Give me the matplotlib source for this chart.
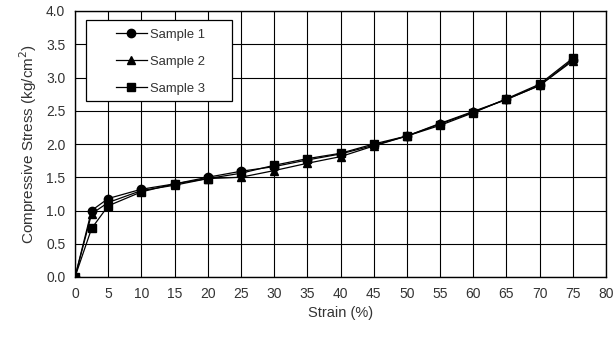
import matplotlib
matplotlib.use("Agg")
import matplotlib.pyplot as plt
from matplotlib.patches import Rectangle

strain = [0, 2.5, 5, 10, 15, 20, 25, 30, 35, 40, 45, 50, 55, 60, 65, 70, 75]
sample1 = [0.0, 1.00, 1.18, 1.32, 1.40, 1.50, 1.59, 1.66, 1.76, 1.85, 1.98, 2.12, 2.30, 2.48, 2.67, 2.88, 3.27]
sample2 = [0.0, 0.95, 1.12, 1.30, 1.38, 1.48, 1.50, 1.60, 1.71, 1.81, 1.97, 2.12, 2.31, 2.49, 2.67, 2.88, 3.25]
sample3 = [0.0, 0.73, 1.07, 1.28, 1.40, 1.48, 1.56, 1.68, 1.78, 1.86, 2.00, 2.12, 2.28, 2.47, 2.68, 2.90, 3.29]
labels = ["Sample 1", "Sample 2", "Sample 3"]
xticks = list(range(0, 81, 5))
yticks = [0.0, 0.5, 1.0, 1.5, 2.0, 2.5, 3.0, 3.5, 4.0]

plt.rcParams['font.family'] = ['Liberation Sans', 'DejaVu Sans']
fig = plt.figure(figsize=(6.15, 3.4), dpi=100)
ax = fig.add_axes([75/615, 1 - 277/340, (606-75)/615, (277-11)/340])

for ys, m, lab in zip([sample1, sample2, sample3], ['o', '^', 's'], labels):
    ax.plot(strain, ys, color='black', lw=0.9, marker=m, markersize=6,
            markerfacecolor='black', markeredgecolor='black', label=lab, zorder=3)

ax.set_xlim(0, 80)
ax.set_ylim(0, 4.0)
ax.set_xticks(xticks)
ax.set_yticks(yticks)
ax.set_xticklabels([str(t) for t in xticks])
ax.set_yticklabels([f"{t:.1f}" for t in yticks])
ax.grid(True, color='black', lw=0.8)
ax.set_axisbelow(True)
ax.tick_params(length=0, labelsize=10, colors='#333333', pad=7)
for s in ax.spines.values():
    s.set_color('black')
    s.set_linewidth(1.0)

ax.set_xlabel("Strain (%)", fontsize=10.5, color='#333333', labelpad=4)
ax.set_ylabel("Compressive Stress (kg/cm$^2$)", fontsize=11, color='#333333', labelpad=5)

# legend frame
ax.add_patch(Rectangle(((86-75)/531, (277-100.5)/266), (232-86)/531, (100.5-19.5)/266,
                       transform=ax.transAxes, facecolor='white', edgecolor='black',
                       lw=0.9, zorder=4))
leg = ax.legend(loc='upper left', bbox_to_anchor=((115.5-75)/531, (277-28.5)/266), fontsize=9.4,
                numpoints=1, handlelength=2.45, frameon=False,
                borderpad=0, labelspacing=1.15, handletextpad=0.2,
                borderaxespad=0, labelcolor='#333333')
leg.set_zorder(5)

fig.savefig("out.png", dpi=100)
